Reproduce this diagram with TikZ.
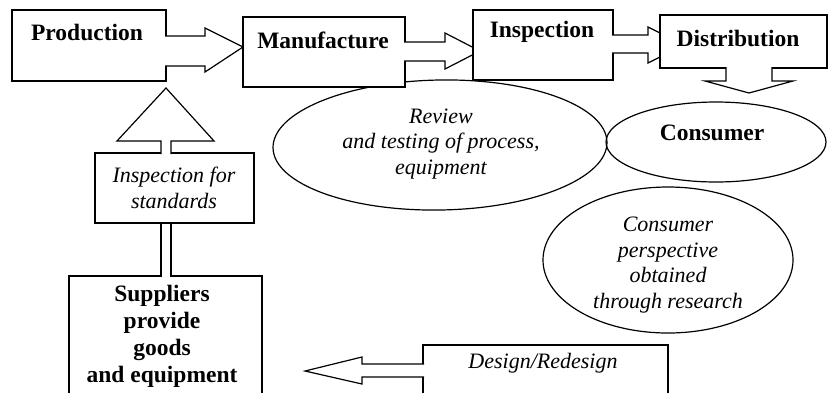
\documentclass[tikz,border=0pt]{standalone}
\usepackage{fontspec}
\setmainfont{Liberation Serif}
\usepackage{tikz}
\usetikzlibrary{shapes.geometric}

\begin{document}
\begin{tikzpicture}[x=1pt, y=-1pt, line width=1.2pt,
        box/.style={draw, fill=white, rectangle, inner sep=0pt},
        bubble/.style={draw, ellipse, inner sep=0pt},
        bftext/.style={font=\fontsize{23.5}{27}\selectfont\bfseries, align=center, inner sep=0pt},
        ittext/.style={font=\fontsize{22}{25.5}\selectfont\itshape, align=center, inner sep=0pt},
        pipe/.style={draw, fill=white, line join=miter}]
        \clip (0,0) rectangle (828,392);

        % ovals first, the boxes sit on top of them
        \node[bubble, minimum width=334pt, minimum height=130pt, rotate=1] (review) at (440,145) {};
        \node[bubble, minimum width=220pt, minimum height=80pt] (consumer) at (716,142) {};
        \node[bubble, minimum width=250pt, minimum height=146pt] (persp) at (668,260) {};

        % top row
        \node[box, minimum width=154pt, minimum height=71pt] (prod) at (89,45.5) {};
        \filldraw[pipe] (165,36) -- (205,36) -- (205,28) -- (243,47) -- (205,72) -- (205,66) -- (165,66);
        \node[box, minimum width=162pt, minimum height=70pt] (manu) at (324,52) {};
        \filldraw[pipe] (404,42) -- (445,42) -- (445,33) -- (480,51) -- (445,69) -- (445,61) -- (404,61);
        \node[box, minimum width=140pt, minimum height=70pt] (insp) at (543,45) {};
        \filldraw[pipe] (612,35) -- (648,35) -- (648,27) -- (684,45) -- (648,63) -- (648,53) -- (612,53);
        \node[box, minimum width=167pt, minimum height=53pt] (dist) at (743.5,41.5) {};
        \filldraw[pipe] (726,67) -- (726,81) -- (705,81) -- (749,93) -- (793,81) -- (772,81) -- (772,67);

        % left column
        \node[box, minimum width=159pt, minimum height=70pt] (std) at (174.5,188) {};
        \filldraw[pipe] (161,154) -- (161,141) -- (117,141) -- (166,88) -- (214,141) -- (171,141) -- (171,154);
        \node[box, minimum width=193pt, minimum height=144pt] (supp) at (165.5,348) {};
        \coordinate (pipeL) at (161,0);
        \coordinate (pipeR) at (171,0);
        \fill[white] ([xshift=0.6pt, yshift=1pt]supp.north -| pipeL) rectangle ([xshift=-0.6pt, yshift=-6pt]supp.north -| pipeR);
        \draw (std.south -| pipeL) -- (supp.north -| pipeL)
            (std.south -| pipeR) -- (supp.north -| pipeR);

        % bottom right
        \node[box, minimum width=245pt, minimum height=75pt] (design) at (545.5,382.5) {};
        \filldraw[pipe] (424,364) -- (362,364) -- (362,357) -- (305,371) -- (362,384) -- (362,377) -- (424,377);

        % labels
        \node[bftext] (prodtxt) at (87,32) {Production};
        \node[bftext] (manutxt) at (323,40) {Manufacture};
        \node[bftext] (insptxt) at (542,32) {Inspection};
        \node[bftext] (disttxt) at (738,38) {Distribution};
        \node[bftext] (constxt) at (712,133) {Consumer};
        \node[ittext] (reviewtxt) at (441,144) {Review\\and testing of process,\\equipment};
        \node[ittext] (persptxt) at (668,265) {Consumer\\perspective\\obtained\\through research};
        \node[ittext] (stdtxt) at (174,188) {Inspection for\\standards};
        \node[bftext] (supptxt) at (162,336) {Suppliers\\provide\\goods\\and equipment};
        \node[ittext] (designtxt) at (543,363) {Design/Redesign};
    \end{tikzpicture}
\end{document}
